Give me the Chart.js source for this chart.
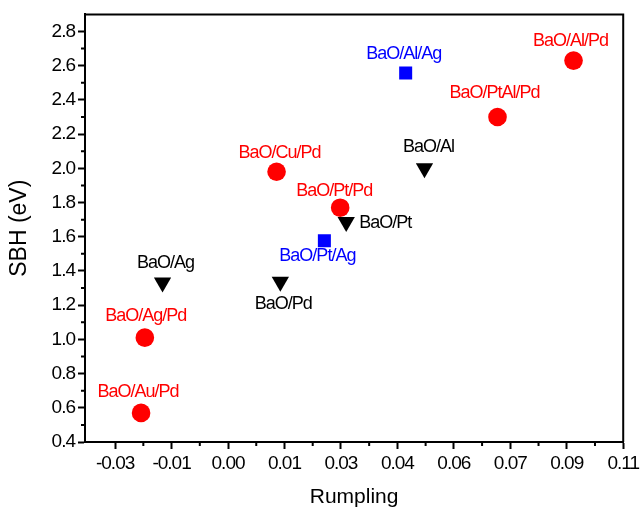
<!DOCTYPE html>
<html>
<head>
<meta charset="utf-8">
<script src="https://cdn.jsdelivr.net/npm/chart.js@4/dist/chart.umd.min.js"></script>
<style>
html,body{margin:0;padding:0;background:#fff;}
#wrap{width:644px;height:514px;position:relative;}
</style>
</head>
<body>
<div id="wrap"><canvas id="c" width="644" height="514"></canvas></div>
<script>
// ---- data ----
const redLabels = ['BaO/Al/Pd','BaO/PtAl/Pd','BaO/Cu/Pd','BaO/Pt/Pd','BaO/Ag/Pd','BaO/Au/Pd'];
const redX = [0.0918, 0.0716, 0.0129, 0.0298, -0.0221, -0.0231];
const redY = [2.63, 2.30, 1.98, 1.77, 1.01, 0.57];

const blackLabels = ['BaO/Al','BaO/Pt','BaO/Pd','BaO/Ag'];
const blackX = [0.0522, 0.0314, 0.0139, -0.0174];
const blackY = [2.00, 1.686, 1.337, 1.333];

const blueLabels = ['BaO/Al/Ag','BaO/Pt/Ag'];
const blueX = [0.0472, 0.0256];
const blueY = [2.557, 1.576];

const xTickValues = [-0.03, -0.015, 0, 0.015, 0.03, 0.045, 0.06, 0.075, 0.09, 0.105];
const xTickLabels = ['-0.03','-0.01','0.00','0.01','0.03','0.04','0.06','0.07','0.09','0.11'];
const yTickValues = [0.4, 0.6, 0.8, 1.0, 1.2, 1.4, 1.6, 1.8, 2.0, 2.2, 2.4, 2.6, 2.8];
const yTickLabels = ['0.4','0.6','0.8','1.0','1.2','1.4','1.6','1.8','2.0','2.2','2.4','2.6','2.8'];

const xTitle = 'Rumpling';
const yTitle = 'SBH (eV)';

// ---- styles / label placement (not data) ----
const FONT = "'Liberation Sans', Arial, sans-serif";
const labelStyle = [
  { color: '#ff0000', offsets: [[-3,-20],[-3,-24],[3,-19],[-6,-17],[1,-22],[-3,-21]], align: ['center','center','center','center','center','center'] },
  { color: '#000000', offsets: [[4,-21],[13,1],[3,22],[3,-19]], align: ['center','left','center','center'] },
  { color: '#0000ff', offsets: [[-2,-19],[-7,15]], align: ['center','center'] }
];

const toPts = (xs, ys) => xs.map((x, i) => ({ x: x, y: ys[i] }));

const pointLabelPlugin = {
  id: 'pointLabels',
  beforeDraw(chart) {
    chart.ctx.letterSpacing = '-1px';
  },
  afterDraw(chart) {
    const ctx = chart.ctx;
    const allLabels = [redLabels, blackLabels, blueLabels];
    ctx.save();
    ctx.letterSpacing = '-1px';
    ctx.font = '18px ' + FONT;
    ctx.textBaseline = 'middle';
    allLabels.forEach((labels, di) => {
      const meta = chart.getDatasetMeta(di);
      const st = labelStyle[di];
      ctx.fillStyle = st.color;
      labels.forEach((txt, i) => {
        const el = meta.data[i];
        ctx.textAlign = st.align[i];
        ctx.fillText(txt, el.x + st.offsets[i][0], el.y + st.offsets[i][1]);
      });
    });
    ctx.restore();

    // frame (top / right)
    const a = chart.chartArea;
    ctx.save();
    ctx.strokeStyle = '#000';
    ctx.lineWidth = 2;
    ctx.beginPath();
    ctx.moveTo(a.left, a.top);
    ctx.lineTo(a.right, a.top);
    ctx.lineTo(a.right, a.bottom);
    ctx.stroke();

    // minor ticks
    const xs = chart.scales.x, ys = chart.scales.y;
    ctx.lineWidth = 2;
    ctx.beginPath();
    for (let i = 0; i < xTickValues.length - 1; i++) {
      const px = xs.getPixelForValue((xTickValues[i] + xTickValues[i+1]) / 2);
      ctx.moveTo(px, a.bottom);
      ctx.lineTo(px, a.bottom + 4);
    }
    for (let i = 0; i < yTickValues.length - 1; i++) {
      const py = ys.getPixelForValue((yTickValues[i] + yTickValues[i+1]) / 2);
      ctx.moveTo(a.left, py);
      ctx.lineTo(a.left - 4, py);
    }
    ctx.stroke();

    // axis titles
    ctx.letterSpacing = '0px';
    ctx.fillStyle = '#000';
    ctx.textAlign = 'center';
    ctx.textBaseline = 'middle';
    ctx.font = '21px ' + FONT;
    ctx.fillText(xTitle, (a.left + a.right) / 2, 497);
    ctx.save();
    ctx.translate(20, (a.top + a.bottom) / 2);
    ctx.rotate(-Math.PI / 2);
    ctx.font = '23px ' + FONT;
    ctx.fillText(yTitle, 0, 0);
    ctx.restore();
    ctx.restore();
  }
};

new Chart(document.getElementById('c'), {
  type: 'scatter',
  data: {
    datasets: [
      { data: toPts(redX, redY), pointStyle: 'circle', pointRadius: 9.3, backgroundColor: '#ff0000', borderWidth: 0 },
      { data: toPts(blackX, blackY), pointStyle: 'triangle', rotation: 180, pointRadius: 10, backgroundColor: '#000000', borderWidth: 0 },
      { data: toPts(blueX, blueY), pointStyle: 'rect', pointRadius: 9.2, backgroundColor: '#0000ff', borderWidth: 0 }
    ]
  },
  options: {
    responsive: false,
    animation: false,
    events: [],
    layout: { padding: { top: 6, right: 18, left: 0, bottom: 0 } },
    plugins: { legend: { display: false }, tooltip: { enabled: false } },
    scales: {
      x: {
        type: 'linear',
        min: -0.038, max: 0.105,
        afterBuildTicks: s => { s.ticks = xTickValues.map(v => ({ value: v })); },
        afterFit: s => { s.height = 72; },
        ticks: {
          color: '#000', padding: 3, maxRotation: 0, autoSkip: false,
          font: { family: FONT, size: 19 },
          callback: (v, i) => xTickLabels[i]
        },
        grid: { drawOnChartArea: false, drawTicks: true, tickLength: 7, tickWidth: 2, color: '#000' },
        border: { display: true, color: '#000', width: 2 }
      },
      y: {
        type: 'linear',
        min: 0.4, max: 2.9,
        afterBuildTicks: s => { s.ticks = yTickValues.map(v => ({ value: v })); },
        afterFit: s => { s.width = 85; },
        ticks: {
          color: '#000', padding: 3, autoSkip: false,
          font: { family: FONT, size: 19 },
          callback: (v, i) => yTickLabels[i]
        },
        grid: { drawOnChartArea: false, drawTicks: true, tickLength: 7, tickWidth: 2, color: '#000' },
        border: { display: true, color: '#000', width: 2 }
      }
    }
  },
  plugins: [pointLabelPlugin]
});
</script>
</body>
</html>
